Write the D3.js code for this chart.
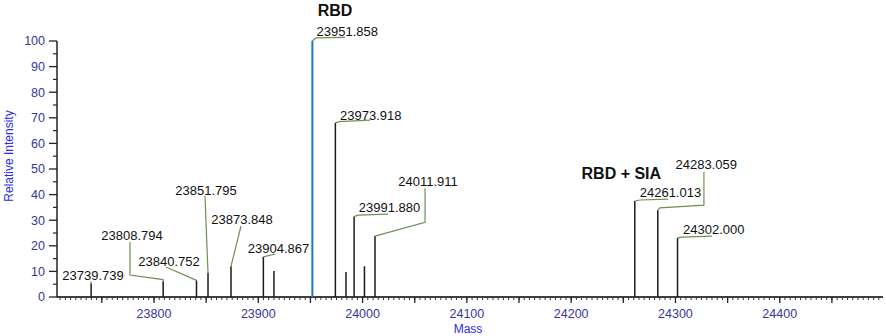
<!DOCTYPE html>
<html><head><meta charset="utf-8">
<script src="https://cdn.jsdelivr.net/npm/d3@7"></script>
<style>
html,body{margin:0;padding:0;background:#fff;}
svg{display:block;}
text{font-family:Arial,"Liberation Sans",sans-serif;}
</style></head>
<body>
<svg id="c" width="886" height="336"></svg>
<script>
// ---- data ----
const peakMass      = [23739.739, 23808.794, 23840.752, 23851.795, 23873.848, 23904.867, 23915.0, 23951.858, 23973.918, 23984.1, 23991.880, 24001.8, 24011.911, 24261.013, 24283.059, 24302.000];
const peakIntensity = [5.3, 6.2, 6.5, 9.4, 12.0, 15.7, 10.2, 100, 68.0, 9.8, 31.4, 12.0, 23.8, 37.5, 33.9, 23.1];
const peakLabels    = ["23739.739","23808.794","23840.752","23851.795","23873.848","23904.867","","23951.858","23973.918","","23991.880","","24011.911","24261.013","24283.059","24302.000"];
const highlightPeak = "23951.858";
const xTickLabels = [23800, 23900, 24000, 24100, 24200, 24300, 24400];
const yTickLabels = [0, 10, 20, 30, 40, 50, 60, 70, 80, 90, 100];
const groupNames = ["RBD", "RBD + SIA"];
const xTitle = "Mass", yTitle = "Relative Intensity";

// ---- label layout (data units: [mass, intensity]) ----
const labelLayout = {
  "23739.739": {t:[23741.5, 8.6], pts:[[23739.6, 6.1]]},
  "23808.794": {t:[23778.9, 24.2], pts:[[23808.6, 6.8],[23777.0, 8.6],[23777.0, 21.5]]},
  "23840.752": {t:[23814.4, 13.7], pts:[[23811.5, 11.7]]},
  "23851.795": {t:[23849.9, 41.5], pts:[[23848.9, 39.5]]},
  "23873.848": {t:[23884.4, 30.1], pts:[[23883.4, 27.7]]},
  "23904.867": {t:[23919.4, 19.1], pts:[[23916.3, 16.8]]},
  "23951.858": {t:[23985.3, 103.6], pts:[[23955.3, 101.2],[23983.1, 101.4]]},
  "23973.918": {t:[24007.8, 71.1], pts:[[23977.4, 68.5],[24007.1, 69.1]]},
  "23991.880": {t:[24025.8, 34.8], pts:[[23995.6, 32.0],[24024.4, 32.4]]},
  "24011.911": {t:[24062.7, 45.0], pts:[[24059.9, 29.2],[24059.9, 42.5]]},
  "24261.013": {t:[24295.2, 40.7], pts:[[24266.0, 37.9],[24292.9, 38.2]]},
  "24283.059": {t:[24329.6, 51.6], pts:[[24285.1, 34.8],[24327.3, 35.9],[24327.3, 48.8]]},
  "24302.000": {t:[24336.8, 26.2], pts:[[24306.3, 23.4],[24335.0, 23.8]]}
};
// group name baselines [mass, intensity]
const groupLayout = [[23973.6, 109.9], [24248.1, 46.0]];

// ---- drawing ----
const svg = d3.select("#c");
const x = d3.scaleLinear().domain([23707, 24499]).range([57, 883]);
const y = d3.scaleLinear().domain([0, 100]).range([297, 41]);
const tickColor = "#37379b";

// x axis: minor ticks every 5, major every 50, labels every 100
const xMinor = d3.range(23710, 24500, 5);
const xMajor = d3.range(23750, 24500, 50);
const gx = svg.append("g").attr("transform", `translate(0,${y(0)})`);
gx.append("line").attr("x1", x.range()[0]).attr("x2", x.range()[1]).attr("stroke", "#000").attr("stroke-width", 1.3);
gx.selectAll("line.mn").data(xMinor).join("line").attr("class","mn")
  .attr("x1", d => x(d)).attr("x2", d => x(d)).attr("y1", 0).attr("y2", 3).attr("stroke", "#333").attr("stroke-width", 1);
gx.selectAll("line.mj").data(xMajor).join("line").attr("class","mj")
  .attr("x1", d => x(d)).attr("x2", d => x(d)).attr("y1", 0).attr("y2", 6).attr("stroke", "#222").attr("stroke-width", 1.3);
gx.selectAll("text").data(xTickLabels).join("text")
  .attr("x", d => x(d)).attr("y", 17).attr("dy", "0.35em").attr("text-anchor", "middle")
  .attr("font-size", 12.5).attr("fill", tickColor).text(d => d);

// y axis
const yMinor = d3.range(5, 100, 10);
const gy = svg.append("g").attr("transform", `translate(${x.range()[0]},0)`);
gy.append("line").attr("y1", y(0)).attr("y2", y(100)).attr("stroke", "#000").attr("stroke-width", 1.3);
gy.selectAll("line.mn").data(yMinor).join("line").attr("class","mn")
  .attr("y1", d => y(d)).attr("y2", d => y(d)).attr("x1", 0).attr("x2", -4).attr("stroke", "#222").attr("stroke-width", 1.2);
gy.selectAll("line.mj").data(yTickLabels).join("line").attr("class","mj")
  .attr("y1", d => y(d)).attr("y2", d => y(d)).attr("x1", 0).attr("x2", -8).attr("stroke", "#222").attr("stroke-width", 1.3);
gy.selectAll("text").data(yTickLabels).join("text")
  .attr("x", -12).attr("y", d => y(d)).attr("dy", "0.35em").attr("text-anchor", "end")
  .attr("font-size", 12.5).attr("fill", tickColor).text(d => d);

// axis titles
svg.append("text").attr("x", 468).attr("y", 329).attr("dy", "0.35em").attr("text-anchor", "middle")
  .attr("font-size", 12).attr("fill", "#2a2af0").text(xTitle);
svg.append("text").attr("transform", `translate(9,156) rotate(-90)`).attr("dy", "0.35em").attr("text-anchor", "middle")
  .attr("font-size", 12).attr("fill", "#2a2af0").text(yTitle);

// peaks
const peaks = peakMass.map((m, i) => ({m, v: peakIntensity[i], label: peakLabels[i]}));
svg.append("g").selectAll("line").data(peaks).join("line")
  .attr("x1", d => x(d.m)).attr("x2", d => x(d.m))
  .attr("y1", y(0)).attr("y2", d => y(d.v))
  .attr("stroke", d => d.label === highlightPeak ? "#1b7bc4" : "#1a1a1a")
  .attr("stroke-width", d => d.label === highlightPeak ? 2 : 1.5);

// leaders
const line = d3.line().x(d => x(d[0])).y(d => y(d[1]));
const labeled = peaks.filter(d => d.label && labelLayout[d.label]);
svg.append("g").selectAll("path").data(labeled).join("path")
  .attr("d", d => line([[d.m, d.v], ...labelLayout[d.label].pts]))
  .attr("fill", "none").attr("stroke", "#6f9050").attr("stroke-width", 1.2);

// labels
svg.append("g").selectAll("text").data(labeled).join("text")
  .attr("x", d => x(labelLayout[d.label].t[0])).attr("y", d => y(labelLayout[d.label].t[1]))
  .attr("dy", "0.35em").attr("text-anchor", "middle").attr("font-size", 13).attr("fill", "#111")
  .text(d => d.label);

// group names
svg.append("g").selectAll("text").data(groupNames).join("text")
  .attr("x", (d, i) => x(groupLayout[i][0])).attr("y", (d, i) => y(groupLayout[i][1]))
  .attr("text-anchor", "middle")
  .attr("font-size", 16).attr("font-weight", "bold")
  .style("font-family", "Arial,'Liberation Sans',sans-serif").attr("fill", "#111")
  .text(d => d);
</script>
</body></html>
